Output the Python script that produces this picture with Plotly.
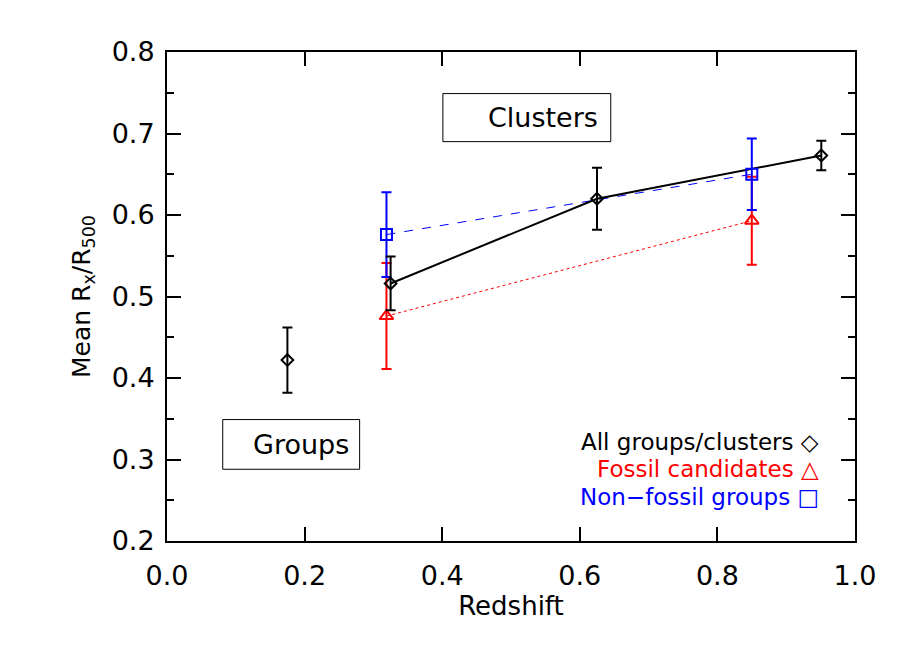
import plotly.graph_objects as go

# mean Rx/R500 versus redshift
z_all = [0.175, 0.325, 0.625, 0.951]
r_all = [0.422, 0.516, 0.620, 0.673]
err_all = [0.040, 0.033, 0.038, 0.018]

z_fossil = [0.319, 0.850]
r_fossil = [0.476, 0.593]
err_fossil = [0.065, 0.054]

z_nonfossil = [0.319, 0.850]
r_nonfossil = [0.576, 0.650]
err_nonfossil = [0.052, 0.044]

x_ticks = [0.0, 0.2, 0.4, 0.6, 0.8, 1.0]
y_ticks = [0.2, 0.3, 0.4, 0.5, 0.6, 0.7, 0.8]

FONT = "DejaVu Sans"
RED = "#ff0000"
BLUE = "#0000ff"

fig = go.Figure()

# connecting lines
fig.add_trace(go.Scatter(x=z_fossil, y=r_fossil, mode="lines",
                         line=dict(color=RED, width=1, dash="dot")))
fig.add_trace(go.Scatter(x=z_nonfossil, y=r_nonfossil, mode="lines",
                         line=dict(color=BLUE, width=1, dash="dash")))
fig.add_trace(go.Scatter(x=z_all[1:], y=r_all[1:], mode="lines",
                         line=dict(color="black", width=2)))

# points with error bars
fig.add_trace(go.Scatter(
    x=z_fossil, y=r_fossil, mode="markers",
    marker=dict(symbol="triangle-up-open", size=12, color=RED, line=dict(width=2)),
    error_y=dict(type="data", array=err_fossil, color=RED, thickness=2, width=5)))
fig.add_trace(go.Scatter(
    x=z_nonfossil, y=r_nonfossil, mode="markers",
    marker=dict(symbol="square-open", size=11, color=BLUE, line=dict(width=2)),
    error_y=dict(type="data", array=err_nonfossil, color=BLUE, thickness=2, width=5)))
fig.add_trace(go.Scatter(
    x=z_all, y=r_all, mode="markers",
    marker=dict(symbol="diamond-open", size=9, color="black", line=dict(width=2)),
    error_y=dict(type="data", array=err_all, color="black", thickness=2, width=5)))

# label boxes
fig.add_shape(type="rect", xref="x", yref="y", x0=0.401, x1=0.645, y0=0.690, y1=0.749,
              line=dict(color="black", width=1))
fig.add_shape(type="rect", xref="x", yref="y", x0=0.081, x1=0.280, y0=0.288, y1=0.349,
              line=dict(color="black", width=1))
fig.add_annotation(x=0.463, y=0.7195, xref="x", yref="y", text="Clusters", showarrow=False,
                   xanchor="left", yanchor="middle", font=dict(family=FONT, size=27, color="black"))
fig.add_annotation(x=0.122, y=0.3185, xref="x", yref="y", text="Groups", showarrow=False,
                   xanchor="left", yanchor="middle", font=dict(family=FONT, size=27, color="black"))

# legend text
legend_rows = [("All groups/clusters \u25c7", "black", 0.202),
               ("Fossil candidates \u25b3", RED, 0.147),
               ("Non\u2212fossil groups \u25a1", BLUE, 0.091)]
for txt, col, yy in legend_rows:
    fig.add_annotation(x=0.951, y=yy, xref="paper", yref="paper", text=txt, showarrow=False,
                       xanchor="right", yanchor="middle", font=dict(family=FONT, size=23, color=col))

axis_common = dict(showline=True, linecolor="black", linewidth=2, mirror="ticks",
                   ticks="inside", ticklen=14, tickwidth=1.5, tickcolor="black",
                   showgrid=False, zeroline=False,
                   tickfont=dict(family=FONT, size=27, color="black"))

fig.update_xaxes(range=[0, 1], tickvals=x_ticks, ticktext=[f"{v:.1f}" for v in x_ticks],
                 ticklabelstandoff=10,
                 title=dict(text="Redshift", font=dict(family=FONT, size=26, color="black"), standoff=6),
                 **axis_common)
fig.update_yaxes(range=[0.2, 0.8], tickvals=y_ticks, ticktext=[f"{v:.1f}" for v in y_ticks],
                 ticklabelstandoff=5,
                 minor=dict(ticks="inside", ticklen=7, tickwidth=1.5, tickcolor="black", dtick=0.05),
                 title=dict(text="Mean R<sub>x</sub>/R<sub>500</sub>",
                            font=dict(family=FONT, size=25, color="black"), standoff=14),
                 **axis_common)

fig.update_layout(width=901, height=647, showlegend=False,
                  plot_bgcolor="white", paper_bgcolor="white",
                  margin=dict(l=159, r=54, t=44, b=114))

fig.write_html("out.html")
